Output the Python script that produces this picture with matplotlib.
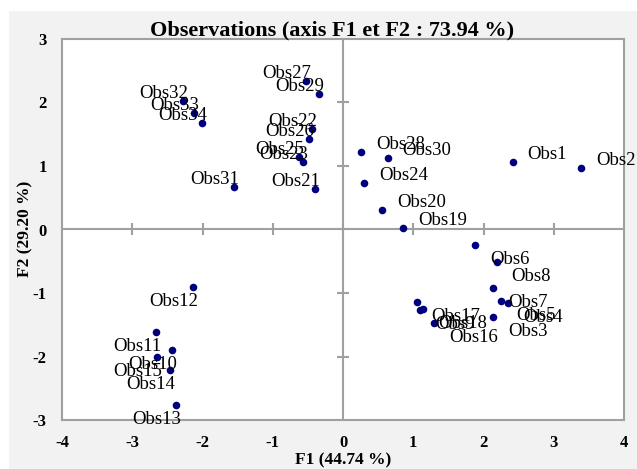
import matplotlib
matplotlib.use("Agg")
import matplotlib.pyplot as plt
from matplotlib.patches import Rectangle

labels = [f"Obs{i}" for i in range(1, 35)]
f1 = [2.416, 3.392, 2.139, 2.353, 2.256, 1.879, 2.139, 2.188, 1.096, -2.434,
      -2.658, -2.131, -2.377, -2.463, -2.643, 1.300, 1.049, 1.143, 0.854, 0.559,
      -0.394, -0.437, -0.565, 0.299, -0.622, -0.488, -0.531, 0.256, -0.337, 0.636,
      -1.547, -2.282, -2.121, -2.007]
f2 = [1.064, 0.964, -1.373, -1.153, -1.132, -0.241, -0.917, -0.508, -1.263, -1.892,
      -1.620, -0.907, -2.767, -2.217, -2.008, -1.478, -1.143, -1.253, 0.031, 0.314,
      0.645, 1.577, 1.069, 0.739, 1.148, 1.426, 2.343, 1.215, 2.134, 1.121,
      0.665, 2.017, 1.829, 1.682]
xticks = [-4, -3, -2, -1, 0, 1, 2, 3, 4]
yticks = [-3, -2, -1, 0, 1, 2, 3]
title = "Observations (axis F1 et F2 : 73.94 %)"
xlabel = "F1 (44.74 %)"
ylabel = "F2 (29.20 %)"

W, H = 637, 469
fig = plt.figure(figsize=(W / 100, H / 100), dpi=100)
fig.patch.set_facecolor("white")
fig.patches.append(Rectangle((9 / W, 0), 1 - 9 / W, 1 - 11 / H, transform=fig.transFigure,
                             facecolor="#f2f2f2", edgecolor="none", zorder=-10))

left, right, top, bottom = 62, 624, 39, 420
ax = fig.add_axes([left / W, 1 - bottom / H, (right - left) / W, (bottom - top) / H])
ax.set_facecolor("white")
ax.set_xlim(-4, 4)
ax.set_ylim(-3, 3)
gray = "#a0a0a0"
for s in ax.spines.values():
    s.set_color(gray)
    s.set_linewidth(1.5)

serif = ["Liberation Serif", "DejaVu Serif"]
ax.set_xticks(xticks)
ax.set_yticks(yticks)
ax.set_xticklabels([str(t) for t in xticks], fontfamily=serif, fontweight="bold", fontsize=12)
ax.set_yticklabels([str(t) for t in yticks], fontfamily=serif, fontweight="bold", fontsize=12)
ax.tick_params(axis="both", length=0, pad=11)

# centre axes with crossing ticks
ax.axhline(0, color=gray, lw=1.5, zorder=1)
ax.axvline(0, color=gray, lw=1.5, zorder=1)
ax.plot([t for t in xticks if abs(t) < 4], [0] * 7, ls="none", marker="|", ms=9,
        mew=1.5, color=gray, zorder=1)
ax.plot([0] * 5, [t for t in yticks if abs(t) < 3], ls="none", marker="_", ms=9,
        mew=1.5, color=gray, zorder=1)

ax.scatter(f1, f2, s=30, color="#00007f", zorder=3, linewidths=0)

px = 0.72
for lab, x, y in zip(labels, f1, f2):
    if x > 0:
        dx, ha = 15 * px, "left"
    else:
        dx, ha = 5 * px, "right"
    dy = 3 * px if y > 0 else -19 * px
    ax.annotate(lab, (x, y), xytext=(dx, dy), textcoords="offset points", ha=ha,
                va="baseline", fontfamily=serif, fontsize=13.5, color="black", zorder=4)

fig.text(332 / W, 1 - 35 / H, title, ha="center", va="baseline", fontfamily=serif,
         fontweight="bold", fontsize=16)
fig.text(343 / W, 1 - 460 / H, xlabel, ha="center", va="center", fontfamily=serif,
         fontweight="bold", fontsize=12.5)
fig.text(25 / W, 1 - 229 / H, ylabel, ha="center", va="center", rotation=90,
         fontfamily=serif, fontweight="bold", fontsize=12.5)

fig.savefig("out.png", dpi=100, facecolor=fig.get_facecolor())
